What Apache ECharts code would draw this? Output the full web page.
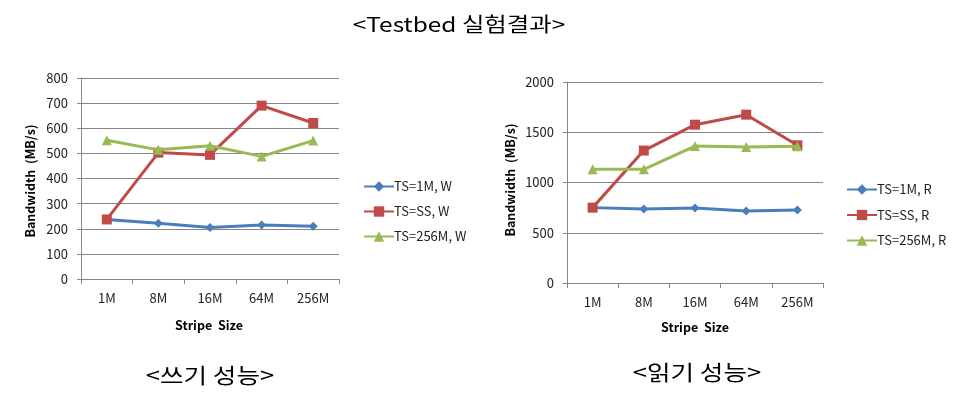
<!DOCTYPE html>
<html><head><meta charset="utf-8">
<script src="https://cdn.jsdelivr.net/npm/echarts@6/dist/echarts.min.js"></script>
<style>html,body{margin:0;padding:0;background:#fff}#c{width:960px;height:403px}</style>
</head><body><div id="c"></div>
<script>
const categories = ['1M', '8M', '16M', '64M', '256M'];
const writeNames = ['TS=1M, W', 'TS=SS, W', 'TS=256M, W'];
const readNames = ['TS=1M, R', 'TS=SS, R', 'TS=256M, R'];
const write1M = [237, 222, 205, 215, 210];
const writeSS = [237, 503, 494, 690, 621];
const write256M = [552, 514, 530, 488, 551];
const read1M = [750, 736, 746, 716, 726];
const readSS = [750, 1318, 1575, 1675, 1370];
const read256M = [1131, 1131, 1362, 1352, 1360];
const titleText = '<Testbed 실험결과>';
const writeLabel = '<쓰기 성능>';
const readLabel = '<읽기 성능>';
const yName = 'Bandwidth  (MB/s)';
const xName = 'Stripe  Size';

const FONT = '"Noto Sans CJK KR", "Noto Sans", sans-serif';
const colors = ['#4a7ebb', '#be4b48', '#98b954'];
const symbols = ['diamond', 'rect', 'triangle'];
const symSizes = [9, 10, 10];

const chart = echarts.init(document.getElementById('c'), null, {renderer: 'canvas'});

function mkX(i) {
  return {
    type: 'category', gridIndex: i, data: categories, boundaryGap: true,
    axisLine: {lineStyle: {color: '#868686', width: 1}},
    axisTick: {show: true, length: 5, lineStyle: {color: '#868686'}},
    axisLabel: {color: '#222', fontSize: 13, margin: 13, fontFamily: FONT}
  };
}
function mkY(i, max, interval) {
  return {
    type: 'value', gridIndex: i, min: 0, max: max, interval: interval,
    axisLine: {show: true, lineStyle: {color: '#868686', width: 1}},
    axisTick: {show: true, length: 4, lineStyle: {color: '#868686'}},
    splitLine: {lineStyle: {color: '#868686', width: 1}},
    axisLabel: {color: '#222', fontSize: 13, margin: 13, fontFamily: FONT, formatter: v => String(v)}
  };
}
function mkS(name, data, k, g) {
  return {
    name: name, type: 'line', xAxisIndex: g, yAxisIndex: g, data: data,
    color: colors[k], symbol: symbols[k], symbolSize: symSizes[k],
    lineStyle: {width: 3, color: colors[k]},
    itemStyle: {color: colors[k]},
    animation: false, z: 3 + k
  };
}
function txt(text, x, y, size, sx, bold, rot) {
  return {type: 'text', x: x, y: y, rotation: rot || 0, scaleX: sx,
    style: {text: text, fontSize: size, fontWeight: bold ? 'bold' : 'normal', fill: '#000', fontFamily: FONT, align: 'center', verticalAlign: 'middle'}};
}

chart.setOption({
  animation: false,
  textStyle: {fontFamily: FONT},
  grid: [
    {left: 81, top: 78, width: 258, height: 201},
    {left: 567, top: 82, width: 256, height: 201}
  ],
  xAxis: [mkX(0), mkX(1)],
  yAxis: [mkY(0, 800, 100), mkY(1, 2000, 500)],
  legend: [
    {data: writeNames, orient: 'vertical', left: 358, top: 175, itemGap: 12,
     itemWidth: 30, itemHeight: 13, textStyle: {fontSize: 13, color: '#222', fontFamily: FONT, padding: [0,0,0,-5]}},
    {data: readNames, orient: 'vertical', left: 841, top: 178, itemGap: 12.5,
     itemWidth: 30, itemHeight: 13, textStyle: {fontSize: 13, color: '#222', fontFamily: FONT, padding: [0,0,0,-5]}}
  ],
  series: [
    mkS(writeNames[0], write1M, 0, 0),
    mkS(writeNames[1], writeSS, 1, 0),
    mkS(writeNames[2], write256M, 2, 0),
    mkS(readNames[0], read1M, 0, 1),
    mkS(readNames[1], readSS, 1, 1),
    mkS(readNames[2], read256M, 2, 1)
  ],
  graphic: [
    txt(titleText, 459, 24, 20, 1.22, false),
    txt(writeLabel, 210, 375, 21, 1.22, false),
    txt(readLabel, 697, 372, 21, 1.22, false),
    txt(yName, 30, 181, 12.5, 1, true, Math.PI / 2),
    txt(yName, 510, 180, 12.5, 1, true, Math.PI / 2),
    txt(xName, 209, 325, 12.5, 1, true),
    txt(xName, 695, 327, 12.5, 1, true)
  ]
});
</script></body></html>
